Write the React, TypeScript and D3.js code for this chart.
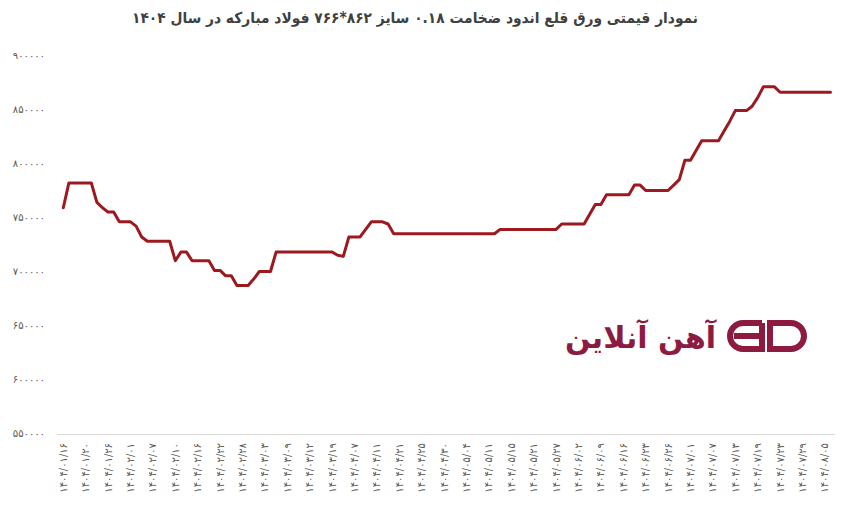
import React from "react";
import * as d3 from "d3";

const title = "نمودار قیمتی ورق قلع اندود ضخامت ۰.۱۸ سایز ۸۶۲*۷۶۶ فولاد مبارکه در سال ۱۴۰۴";

const tickLabels = [
  "۱۴۰۴/۰۱/۱۶", "۱۴۰۴/۰۱/۲۰", "۱۴۰۴/۰۱/۲۶", "۱۴۰۴/۰۲/۰۱", "۱۴۰۴/۰۲/۰۷",
  "۱۴۰۴/۰۲/۱۰", "۱۴۰۴/۰۲/۱۶", "۱۴۰۴/۰۲/۲۲", "۱۴۰۴/۰۲/۲۸", "۱۴۰۴/۰۳/۰۳",
  "۱۴۰۴/۰۳/۰۹", "۱۴۰۴/۰۳/۱۲", "۱۴۰۴/۰۳/۱۹", "۱۴۰۴/۰۴/۰۷", "۱۴۰۴/۰۴/۱۱",
  "۱۴۰۴/۰۴/۲۱", "۱۴۰۴/۰۴/۲۵", "۱۴۰۴/۰۴/۳۰", "۱۴۰۴/۰۵/۰۴", "۱۴۰۴/۰۵/۱۱",
  "۱۴۰۴/۰۵/۱۵", "۱۴۰۴/۰۵/۲۱", "۱۴۰۴/۰۵/۲۷", "۱۴۰۴/۰۶/۰۲", "۱۴۰۴/۰۶/۰۹",
  "۱۴۰۴/۰۶/۱۶", "۱۴۰۴/۰۶/۲۳", "۱۴۰۴/۰۶/۲۶", "۱۴۰۴/۰۷/۰۱", "۱۴۰۴/۰۷/۰۷",
  "۱۴۰۴/۰۷/۱۳", "۱۴۰۴/۰۷/۱۹", "۱۴۰۴/۰۷/۲۳", "۱۴۰۴/۰۷/۲۹", "۱۴۰۴/۰۸/۰۵",
];

const prices = [
  759000, 782000, 782000, 782000, 782000, 782000, 764000, 759000, 755000, 755000,
  746000, 746000, 746000, 742000, 732000, 728000, 728000, 728000, 728000, 728000,
  710000, 718000, 718000, 710000, 710000, 710000, 710000, 701000, 701000, 696000,
  696000, 687000, 687000, 687000, 693000, 700000, 700000, 700000,
  718000, 718000, 718000, 718000, 718000, 718000, 718000, 718000, 718000, 718000, 718000,
  715000, 714000, 732000, 732000, 732000, 739000, 746000, 746000, 746000, 744000,
  735000, 735000, 735000, 735000, 735000, 735000, 735000, 735000, 735000, 735000,
  735000, 735000, 735000, 735000, 735000, 735000, 735000, 735000, 735000,
  739000, 739000, 739000, 739000, 739000, 739000, 739000, 739000, 739000, 739000, 739000,
  744000, 744000, 744000, 744000, 744000,
  753000, 762000, 762000,
  771000, 771000, 771000, 771000, 771000,
  780000, 780000,
  775000, 775000, 775000, 775000, 775000,
  780000, 785000, 803000, 803000, 812000,
  821000, 821000, 821000, 821000,
  830000, 839000,
  849000, 849000, 849000,
  853000, 861000,
  871000, 871000, 871000,
  866000, 866000, 866000, 866000, 866000, 866000, 866000, 866000, 866000, 866000,
];

const yTicks = [550000, 600000, 650000, 700000, 750000, 800000, 850000, 900000];
const labelEvery = 4;
const logoText = "آهن آنلاین";

const W = 845;
const H = 514;
const FONT = "'DejaVu Sans', sans-serif";

const toFa = (s: string) => s.replace(/[0-9]/g, (d) => "۰۱۲۳۴۵۶۷۸۹"[+d]);

export default function App() {
  const x = d3.scalePoint<number>().domain(d3.range(prices.length)).range([63.3, 830.5]);
  const y = d3.scaleLinear().domain([550000, 900000]).range([433.5, 55.5]);
  const line = d3
    .line<number>()
    .x((_, i) => x(i) as number)
    .y((d) => y(d));

  return (
    <svg
      width={W}
      height={H}
      style={{ position: "absolute", left: 0, top: 0, background: "#fff" }}
      fontFamily={FONT}
    >
      <rect width={W} height={H} fill="#fff" />
      <text
        x={415}
        y={23}
        textAnchor="middle"
        fontSize={15}
        fontWeight="bold"
        fill="#404040"
        textLength={566}
        lengthAdjust="spacingAndGlyphs"
        direction="rtl"
      >
        {title}
      </text>

      {yTicks.map((t) => (
        <text
          key={t}
          x={45}
          y={y(t)}
          textAnchor="end"
          dominantBaseline="middle"
          fontSize={10}
          fill="#595959"
        >
          {toFa(String(t))}
        </text>
      ))}

      <line x1={57} x2={835} y1={434.5} y2={434.5} stroke="#d9d9d9" strokeWidth={1} />

      {tickLabels.map((lab, k) => {
        const px = x(k * labelEvery) as number;
        return (
          <text
            key={k}
            transform={`translate(${px + 3.5},443) rotate(-90)`}
            textAnchor="end"
            fontSize={10}
            fill="#595959"
          >
            {lab}
          </text>
        );
      })}

      <path
        d={line(prices) || ""}
        fill="none"
        stroke="#9c1a1f"
        strokeWidth={3}
        strokeLinejoin="round"
        strokeLinecap="round"
      />

      {/* logo */}
      <g fill="none" stroke="#8c1b3f" strokeWidth={6}>
        <path d="M 762 323 L 743 323 A 13 13 0 0 0 743 349 L 762 349 L 762 323 M 734 336 L 762 336" />
        <path d="M 770 323 L 791 323 A 13 13 0 0 1 791 349 L 770 349 Z" />
      </g>
      <text x={716} y={348} textAnchor="end" fontSize={30} fontWeight="bold" fill="#8c1b3f">
        {logoText}
      </text>
    </svg>
  );
}
